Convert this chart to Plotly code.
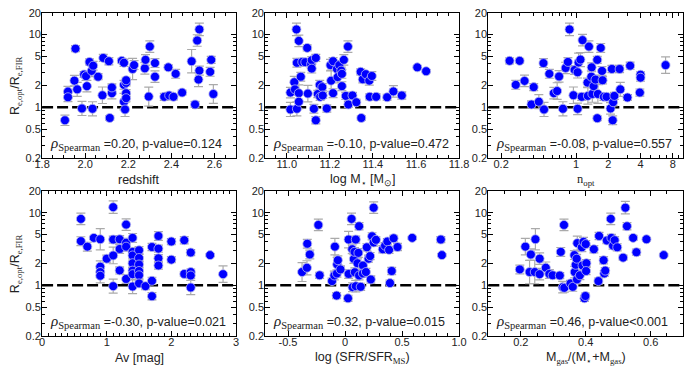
import math
import plotly.graph_objects as go
from plotly.subplots import make_subplots

# ---- data ----
# panel 1: redshift
z_x = [1.906, 1.92, 1.92, 1.955, 1.95, 1.963, 1.985, 1.995, 2.004, 2.008,
       2.02, 2.03, 2.037, 2.034, 2.06, 2.084, 2.08, 2.11, 2.114, 2.124,
       2.124, 2.17, 2.18, 2.18, 2.18, 2.185, 2.19, 2.19, 2.19, 2.19,
       2.22, 2.227, 2.277, 2.28, 2.295, 2.30, 2.324, 2.324, 2.367, 2.386,
       2.39, 2.41, 2.42, 2.45, 2.494, 2.51, 2.52, 2.53, 2.53, 2.526,
       2.585, 2.58, 2.595]
z_y = [0.66, 1.64, 1.37, 6.4, 2.32, 1.76, 0.96, 2.82, 2.68, 1.95,
       4.2, 3.16, 3.73, 0.95, 2.63, 4.77, 1.46, 4.3, 0.71, 1.56,
       1.87, 4.35, 4.09, 2.03, 1.19, 0.93, 2.16, 2.35, 1.56, 1.33,
       3.36, 3.8, 3.43, 4.49, 1.4, 6.84, 4.05, 2.63, 1.39, 3.54,
       1.45, 1.39, 2.88, 1.59, 4.3, 1.09, 8.3, 11.8, 3.19, 2.4,
       4.49, 3.07, 1.52]
z_e = [0.18, 0.18, 0.15, 0.1, 0.18, 0.25, 0.25, 0.1, 0.15, 0.2,
       0.1, 0.2, 0.15, 0.25, 0.1, 0.12, 0.3, 0.12, 0.08, 0.2,
       0.12, 0.08, 0.12, 0.15, 0.3, 0.25, 0.1, 0.1, 0.12, 0.12,
       0.4, 0.15, 0.2, 0.18, 0.35, 0.2, 0.15, 0.2, 0.12, 0.08,
       0.1, 0.1, 0.15, 0.08, 0.45, 0.1, 0.2, 0.22, 0.15, 0.25,
       0.12, 0.15, 0.35]

# panel 2: log M*
m_x = [11.017, 11.017, 11.035, 11.038, 11.045, 11.047, 11.047, 11.056, 11.056, 11.056,
       11.065, 11.072, 11.086, 11.095, 11.098, 11.113, 11.116, 11.116, 11.126, 11.135,
       11.135, 11.144, 11.153, 11.155, 11.165, 11.167, 11.186, 11.203, 11.206, 11.215,
       11.215, 11.233, 11.236, 11.244, 11.253, 11.256, 11.256, 11.265, 11.274, 11.284,
       11.286, 11.305, 11.323, 11.343, 11.346, 11.353, 11.367, 11.383, 11.395, 11.385,
       11.415, 11.466, 11.495, 11.534, 11.606, 11.647]
m_y = [1.59, 0.93, 2.21, 1.76, 11.8, 4.09, 0.95, 8.2, 1.56, 1.19,
       2.63, 4.2, 4.17, 6.56, 1.54, 3.92, 4.44, 3.4, 0.95, 4.77,
       0.66, 1.52, 2.03, 1.39, 1.89, 1.45, 0.96, 3.8, 2.32, 4.3,
       1.56, 3.36, 2.6, 3.8, 3.19, 2.88, 1.95, 4.49, 1.43, 6.84,
       1.09, 1.45, 1.17, 3.07, 0.71, 2.42, 2.85, 2.32, 2.69, 1.39,
       1.39, 1.37, 1.65, 1.45, 3.54, 3.13]
m_e = [0.18, 0.25, 0.2, 0.2, 0.22, 0.15, 0.25, 0.2, 0.3, 0.25,
       0.15, 0.12, 0.12, 0.1, 0.3, 0.12, 0.12, 0.15, 0.15, 0.12,
       0.12, 0.12, 0.15, 0.12, 0.12, 0.1, 0.12, 0.2, 0.4, 0.12,
       0.15, 0.3, 0.2, 0.15, 0.12, 0.15, 0.15, 0.18, 0.12, 0.2,
       0.1, 0.1, 0.1, 0.1, 0.08, 0.12, 0.08, 0.15, 0.15, 0.1,
       0.1, 0.1, 0.2, 0.12, 0.05, 0.05]

# panel 3: n_opt
n_x = [0.24, 0.274, 0.298, 0.331, 0.384, 0.403, 0.45, 0.497, 0.503, 0.564,
       0.621, 0.667, 0.695, 0.755, 0.8, 0.84, 0.87, 0.946, 0.97, 1.035,
       1.035, 1.057, 1.1, 1.13, 1.15, 1.28, 1.29, 1.32, 1.39, 1.4,
       1.42, 1.46, 1.52, 1.58, 1.58, 1.6, 1.7, 1.75, 1.77, 1.82,
       1.93, 2.1, 2.16, 2.2, 2.22, 2.28, 2.55, 2.59, 3.02, 3.2,
       4.0, 4.0, 3.94, 6.85]
n_y = [4.35, 2.03, 4.35, 2.3, 1.09, 1.89, 1.19, 4.05, 0.93, 2.88,
       1.56, 1.67, 2.65, 0.95, 3.47, 4.2, 11.8, 1.46, 3.26, 0.95,
       3.03, 4.13, 4.53, 1.39, 8.4, 2.18, 1.43, 6.84, 2.63, 3.54,
       1.52, 1.95, 2.4, 4.49, 0.705, 1.52, 6.56, 3.16, 2.35, 1.39,
       1.39, 0.96, 3.36, 0.66, 1.17, 1.43, 3.36, 1.76, 1.36, 3.73,
       2.8, 2.55, 1.59, 3.8]
n_e = [0.1, 0.15, 0.08, 0.2, 0.12, 0.12, 0.25, 0.15, 0.25, 0.15,
       0.2, 0.3, 0.2, 0.25, 0.2, 0.15, 0.22, 0.3, 0.15, 0.2,
       0.2, 0.35, 0.25, 0.12, 0.2, 0.15, 0.3, 0.2, 0.2, 0.15,
       0.3, 0.15, 0.15, 0.12, 0.08, 0.35, 0.15, 0.15, 0.12, 0.12,
       0.1, 0.2, 0.12, 0.15, 0.12, 0.12, 0.12, 0.25, 0.1, 0.12,
       0.1, 0.12, 0.12, 0.3]

# panel 4: Av
av_x = [0.6, 0.6, 0.7, 0.8, 0.9, 0.9, 0.9, 0.9, 1.0, 1.1,
        1.1, 1.1, 1.1, 1.2, 1.2, 1.2, 1.3, 1.3, 1.3, 1.3,
        1.4, 1.4, 1.4, 1.4, 1.4, 1.4, 1.4, 1.5, 1.5, 1.5,
        1.5, 1.5, 1.5, 1.6, 1.7, 1.7, 1.7, 1.8, 1.8, 1.8,
        1.8, 2.0, 2.0, 2.2, 2.2, 2.3, 2.3, 2.3, 2.3, 2.6,
        2.8]
av_y = [8.2, 4.05, 3.4, 4.49, 4.3, 1.8, 1.52, 1.35, 2.32, 11.9,
        4.26, 2.57, 0.97, 4.3, 3.16, 1.6, 6.84, 3.85, 3.4, 1.22,
        4.49, 2.88, 2.57, 2.01, 1.59, 1.42, 0.96, 3.03, 2.37, 1.93,
        1.57, 1.37, 1.06, 0.97, 3.36, 1.15, 0.705, 4.77, 3.19, 2.35,
        1.87, 4.0, 2.25, 4.17, 1.43, 2.82, 1.52, 1.36, 0.93, 2.6,
        1.42]
av_e = [0.2, 0.15, 0.15, 0.05, 0.4, 0.2, 0.2, 0.25, 0.12, 0.22,
        0.12, 0.3, 0.25, 0.12, 0.15, 0.12, 0.2, 0.15, 0.15, 0.15,
        0.15, 0.15, 0.2, 0.15, 0.12, 0.2, 0.25, 0.12, 0.12, 0.12,
        0.12, 0.12, 0.12, 0.12, 0.12, 0.12, 0.12, 0.15, 0.12, 0.12,
        0.12, 0.1, 0.1, 0.12, 0.08, 0.1, 0.1, 0.1, 0.25, 0.05,
        0.3]

# panel 5: log(SFR/SFR_MS)
sfr_x = [-0.377, -0.334, -0.331, -0.309, -0.234, -0.223, -0.114, -0.094, -0.089, -0.074,
         -0.071, -0.069, -0.063, -0.04, 0.026, 0.031, 0.031, 0.057, 0.063, 0.066,
         0.077, 0.083, 0.086, 0.094, 0.094, 0.109, 0.117, 0.123, 0.123, 0.137,
         0.157, 0.157, 0.183, 0.191, 0.206, 0.22, 0.226, 0.237, 0.251, 0.251,
         0.271, 0.331, 0.351, 0.371, 0.386, 0.394, 0.409, 0.426, 0.46, 0.589,
         0.84, 0.849]
sfr_y = [1.52, 1.74, 3.73, 2.65, 6.77, 1.37, 1.14, 1.36, 3.4, 0.72,
         1.45, 1.93, 2.21, 1.65, 0.66, 4.26, 1.43, 8.2, 3.13, 0.94,
         2.3, 2.88, 1.51, 4.26, 0.97, 2.01, 2.79, 6.5, 1.36, 0.95,
         1.87, 1.45, 1.52, 3.33, 2.32, 2.52, 1.2, 4.72, 11.7, 3.88,
         4.22, 3.13, 3.51, 4.0, 3.07, 1.07, 1.57, 4.44, 3.36, 4.49,
         4.26, 2.6]
sfr_e = [0.35, 0.25, 0.15, 0.15, 0.2, 0.1, 0.1, 0.15, 0.3, 0.1,
         0.12, 0.25, 0.15, 0.12, 0.1, 0.3, 0.15, 0.2, 0.15, 0.15,
         0.15, 0.15, 0.15, 0.12, 0.2, 0.15, 0.15, 0.12, 0.15, 0.12,
         0.12, 0.12, 0.12, 0.12, 0.12, 0.12, 0.12, 0.12, 0.2, 0.12,
         0.1, 0.12, 0.1, 0.1, 0.12, 0.1, 0.12, 0.1, 0.12, 0.05,
         0.1, 0.05]

# panel 6: gas fraction
fg_x = [0.197, 0.214, 0.227, 0.231, 0.243, 0.245, 0.258, 0.258, 0.277, 0.288,
        0.298, 0.32, 0.323, 0.329, 0.333, 0.334, 0.353, 0.36, 0.365, 0.366,
        0.369, 0.372, 0.373, 0.374, 0.382, 0.388, 0.39, 0.393, 0.396, 0.399,
        0.4, 0.402, 0.401, 0.425, 0.439, 0.441, 0.455, 0.457, 0.46, 0.465,
        0.477, 0.479, 0.484, 0.489, 0.497, 0.515, 0.522, 0.527, 0.546, 0.556,
        0.587, 0.64]
fg_y = [1.65, 3.4, 1.52, 2.65, 1.52, 4.3, 2.32, 1.42, 1.74, 1.43,
        1.37, 1.36, 2.88, 0.94, 6.77, 0.92, 1.06, 0.95, 2.6, 1.52,
        1.91, 2.32, 1.2, 3.8, 1.37, 3.33, 1.87, 3.96, 0.66, 0.71,
        3.69, 2.01, 1.57, 3.13, 1.14, 4.77, 2.21, 1.45, 1.59, 4.13,
        8.2, 4.49, 3.51, 4.17, 3.33, 2.4, 11.7, 6.5, 4.49, 2.85,
        4.3, 2.6]
fg_e = [0.15, 0.3, 0.45, 0.2, 0.45, 0.4, 0.2, 0.2, 0.2, 0.15,
        0.1, 0.1, 0.15, 0.2, 0.2, 0.15, 0.1, 0.15, 0.15, 0.2,
        0.2, 0.15, 0.15, 0.25, 0.15, 0.15, 0.15, 0.15, 0.1, 0.1,
        0.12, 0.12, 0.12, 0.12, 0.1, 0.12, 0.12, 0.1, 0.1, 0.1,
        0.2, 0.12, 0.12, 0.12, 0.12, 0.08, 0.22, 0.12, 0.08, 0.1,
        0.05, 0.05]

rho_vals = ["0.20", "-0.10", "-0.08", "-0.30", "0.32", "0.46"]
p_vals = ["=0.124", "=0.472", "=0.557", "=0.021", "=0.015", "&lt;0.001"]

y_ticks = [0.2, 0.5, 1, 2, 5, 10, 20]
y_minor = [0.3, 0.4, 0.6, 0.7, 0.8, 0.9, 3, 4, 6, 7, 8, 9]

SERIF = "font-family:Liberation Serif"

x_titles = [
    "redshift",
    "log M<sub>⋆</sub> [M<sub>⊙</sub>]",
    f"<span style='{SERIF}'>n<sub>opt</sub></span>",
    "Av [mag]",
    f"log (SFR/SFR<sub><span style='{SERIF}'>MS</span></sub>)",
    f"M<sub><span style='{SERIF}'>gas</span></sub>/(M<sub>⋆</sub>+M<sub><span style='{SERIF}'>gas</span></sub>)",
]

panels = [
    # x, y, err, axis settings
    (z_x, z_y, z_e, dict(type="linear", range=[1.8, 2.7], tickvals=[1.8, 2.0, 2.2, 2.4, 2.6],
                         ticktext=["1.8", "2.0", "2.2", "2.4", "2.6"], minor=dict(dtick=0.05))),
    (m_x, m_y, m_e, dict(type="linear", range=[10.9, 11.8], tickvals=[11.0, 11.2, 11.4, 11.6, 11.8],
                         ticktext=["11.0", "11.2", "11.4", "11.6", "11.8"], minor=dict(dtick=0.05))),
    (n_x, n_y, n_e, dict(type="log", range=[math.log10(0.152), 1.0], tickvals=[0.2, 1, 2, 4, 8],
                         ticktext=["0.2", "1", "2", "4", "8"],
                         minor=dict(tickmode="array", tickvals=[0.3, 0.4, 0.5, 0.6, 0.7, 0.8, 0.9, 3, 5, 6, 7, 9]))),
    (av_x, av_y, av_e, dict(type="linear", range=[0, 3], tickvals=[0, 1, 2, 3],
                            ticktext=["0", "1", "2", "3"], minor=dict(dtick=0.1))),
    (sfr_x, sfr_y, sfr_e, dict(type="linear", range=[-0.7, 1.0], tickvals=[-0.5, 0, 0.5, 1.0],
                               ticktext=["-0.5", "0", "0.5", "1.0"], minor=dict(dtick=0.1, tick0=0))),
    (fg_x, fg_y, fg_e, dict(type="linear", range=[0.1, 0.7], tickvals=[0.2, 0.4, 0.6],
                            ticktext=["0.2", "0.4", "0.6"], minor=dict(dtick=0.05))),
]

# pixel layout of the six frames (700 x 370 canvas)
W, H = 700, 370
x_px = [(35, 234), (264, 463), (493, 693)]
y_px = [(7, 157), (191, 341)]

fig = make_subplots(rows=2, cols=3)

tick_font = dict(family="Liberation Sans, Arial", size=11, color="#222222")
title_font = dict(family="Liberation Sans, Arial", size=12.5, color="#222222")

for i, (xs, ys, es, xcfg) in enumerate(panels):
    row, col = i // 3 + 1, i % 3 + 1
    up = [y * e for y, e in zip(ys, es)]
    down = [y * e / (1 + e) for y, e in zip(ys, es)]
    fig.add_trace(go.Scatter(
        x=xs, y=ys, mode="markers",
        marker=dict(size=9, color="#0000ff", line=dict(color="#b8b8f0", width=0.8)),
        error_y=dict(type="data", array=up, arrayminus=down, color="#aaaaaa",
                     thickness=1.2, width=4.5),
        showlegend=False, hoverinfo="x+y",
    ), row=row, col=col)

    n = "" if i == 0 else str(i + 1)
    x0, x1 = x_px[col - 1]
    y0, y1 = y_px[row - 1]
    minor = dict(ticks="inside", ticklen=3, tickcolor="black", showgrid=False)
    minor.update(xcfg["minor"])
    fig.update_layout({
        f"xaxis{n}": dict(
            domain=[x0 / W, x1 / W], type=xcfg["type"], range=xcfg["range"],
            tickmode="array", tickvals=xcfg["tickvals"], ticktext=xcfg["ticktext"],
            ticks="inside", ticklen=5, tickcolor="black", minor=minor,
            showline=True, linecolor="black", linewidth=1, mirror="allticks",
            showgrid=False, zeroline=False, tickfont=tick_font, ticklabelstandoff=-4,
        ),
        f"yaxis{n}": dict(
            domain=[1 - y1 / H, 1 - y0 / H], type="log",
            range=[math.log10(0.2), math.log10(20)],
            tickmode="array", tickvals=y_ticks, ticktext=[str(v) for v in y_ticks],
            ticks="inside", ticklen=5, tickcolor="black",
            minor=dict(ticks="inside", ticklen=3, tickcolor="black", tickmode="array",
                       tickvals=y_minor, showgrid=False),
            showline=True, linecolor="black", linewidth=1, mirror="allticks",
            showgrid=False, zeroline=False, tickfont=tick_font, ticklabelstandoff=-2,
        ),
    })

    # dashed line at ratio = 1
    fig.add_shape(type="line", xref=f"x{n} domain", yref=f"y{n}", x0=0, x1=1, y0=1, y1=1,
                  line=dict(color="black", width=2.5, dash="11px,4px"), layer="below")

    # spearman text
    fig.add_annotation(
        xref=f"x{n} domain", yref=f"y{n} domain", x=0.03, y=0.095,
        xanchor="left", yanchor="middle", showarrow=False,
        text=(f"<span style='{SERIF};font-style:italic;font-size:15px'>ρ</span>"
              f"<sub><span style='{SERIF};font-size:10.5px'>Spearman</span></sub>"
              f" ={rho_vals[i]}, p-value{p_vals[i]}"),
        font=dict(family="Liberation Sans, Arial", size=12.5, color="#222222"),
    )

    # x title
    fig.add_annotation(
        xref="paper", yref="paper", x=(x0 + x1) / 2 / W, y=1 - (y1 + 23) / H,
        xanchor="center", yanchor="middle", showarrow=False,
        text=x_titles[i], font=title_font,
    )

# y titles on the left column
for (y0, y1) in y_px:
    fig.add_annotation(
        xref="paper", yref="paper", x=9 / W, y=1 - (y0 + y1) / 2 / H,
        xanchor="center", yanchor="middle", showarrow=False, textangle=-90,
        text=f"R<sub><span style='{SERIF}'>e,opt</span></sub>/R<sub><span style='{SERIF}'>e,FIR</span></sub>",
        font=title_font,
    )

fig.update_layout(
    width=W, height=H, margin=dict(l=0, r=0, t=0, b=0),
    paper_bgcolor="white", plot_bgcolor="white",
    font=dict(family="Liberation Sans, Arial", color="#222222"),
)

# the page body has a default 8px margin; drop it so the figure sits at 0,0
fig.write_html("out.html", config={"displayModeBar": False},
               post_script="document.body.style.margin='0';")
